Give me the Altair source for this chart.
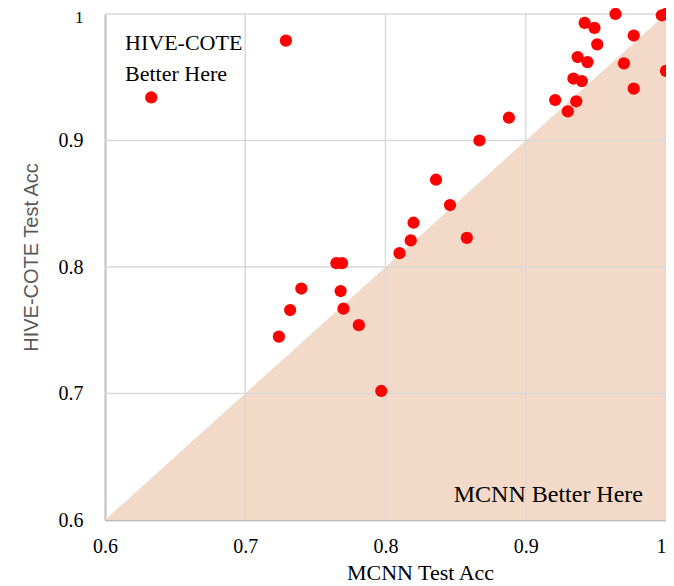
import altair as alt
import pandas as pd

# MCNN test accuracy (x) and HIVE-COTE test accuracy (y) per dataset
mcnn_acc = [0.633, 0.729, 0.836, 0.846, 0.820, 0.818, 0.810, 0.858, 0.765, 0.769,
            0.740, 0.768, 0.732, 0.770, 0.781, 0.724, 0.797, 0.964, 0.997, 1.000,
            0.942, 0.949, 0.977, 0.951, 0.937, 0.944, 0.970, 1.000, 0.934, 0.940,
            0.977, 0.921, 0.936, 0.930, 0.888, 0.867]
hive_acc = [0.934, 0.979, 0.869, 0.849, 0.835, 0.821, 0.811, 0.823, 0.803, 0.803,
            0.783, 0.781, 0.766, 0.767, 0.754, 0.745, 0.702, 1.000, 0.999, 1.000,
            0.993, 0.989, 0.983, 0.976, 0.966, 0.962, 0.961, 0.955, 0.949, 0.947,
            0.941, 0.932, 0.931, 0.923, 0.918, 0.900]

tick_values = [0.6, 0.7, 0.8, 0.9, 1.0]
grid_ticks = [0.7, 0.8, 0.9, 1.0]
diag_vals = [0.6, 1.0]
axis_min = 0.6

top_note_lines = ["HIVE-COTE", "Better Here"]
top_note_x = [0.6143, 0.6143]
top_note_y = [0.9715, 0.947]
bottom_note = ["MCNN Better Here"]
bottom_note_x = [0.9836]
bottom_note_y = [0.6142]

pts = pd.DataFrame({"mcnn": mcnn_acc, "hive": hive_acc})
diag = pd.DataFrame({"x": diag_vals, "y": diag_vals, "y2": [axis_min, axis_min]})
grid = pd.DataFrame({"v": grid_ticks})
top_df = pd.DataFrame({"t": top_note_lines, "x": top_note_x, "y": top_note_y})
bot_df = pd.DataFrame({"t": bottom_note, "x": bottom_note_x, "y": bottom_note_y})

xs = alt.Scale(domain=[0.6, 1.0], nice=False, zero=False)
ys = alt.Scale(domain=[0.6, 1.0], nice=False, zero=False)
lab_expr = "datum.value == 1 ? '1' : format(datum.value, '.1f')"

x_axis = alt.Axis(values=tick_values, grid=False, ticks=False, domainColor="#bfbfbf",
                  domainWidth=2, labelFont="Liberation Serif", labelFontSize=20,
                  labelColor="black", labelPadding=16, labelFlush=False,
                  labelAlign={"condition": {"test": "datum.value == 1", "value": "right"},
                              "value": "center"},
                  labelExpr=lab_expr, title="MCNN Test Acc",
                  titleFont="Liberation Serif", titleFontSize=22,
                  titleFontWeight="normal", titleColor="black",
                  titleX=315, titleY=59, titleBaseline="alphabetic")
y_axis = alt.Axis(values=tick_values, grid=False, ticks=False, domainColor="#bfbfbf",
                  domainWidth=2, labelFont="Liberation Serif",
                  labelFontSize={"condition": {"test": "datum.value == 1", "value": 17},
                                 "value": 20},
                  labelColor="black", labelPadding=22, labelFlush=False,
                  labelOffset={"condition": {"test": "datum.value == 1", "value": 3},
                               "value": 0},
                  labelExpr=lab_expr, title="HIVE-COTE Test Acc",
                  titleFont="Liberation Sans", titleFontSize=20,
                  titleFontWeight="normal", titleColor="#595959",
                  titleX=-74, titleY=243, titleBaseline="middle")

tri = alt.Chart(diag).mark_area(color="#f2d9c8", opacity=1).encode(
    x=alt.X("x:Q", scale=xs, axis=x_axis),
    y=alt.Y("y:Q", scale=ys, axis=y_axis),
    y2="y2:Q",
)
vgrid = alt.Chart(grid).mark_rule(color="#d9d9d9", strokeWidth=1.5).encode(
    x=alt.X("v:Q", scale=xs))
hgrid = alt.Chart(grid).mark_rule(color="#d9d9d9", strokeWidth=1.5).encode(
    y=alt.Y("v:Q", scale=ys))
points = alt.Chart(pts).mark_circle(size=150, color="#ff0000", opacity=1).encode(
    x=alt.X("mcnn:Q", scale=xs),
    y=alt.Y("hive:Q", scale=ys),
)
top_text = alt.Chart(top_df).mark_text(
    font="Liberation Serif", fontSize=22, align="left", baseline="alphabetic",
    color="black").encode(x=alt.X("x:Q", scale=xs), y=alt.Y("y:Q", scale=ys), text="t:N")
bot_text = alt.Chart(bot_df).mark_text(
    font="Liberation Serif", fontSize=24, align="right", baseline="alphabetic",
    color="black").encode(x=alt.X("x:Q", scale=xs), y=alt.Y("y:Q", scale=ys), text="t:N")

chart = alt.layer(tri, vgrid, hgrid, points, top_text, bot_text).properties(
    width=561, height=506,
    autosize=alt.AutoSizeParams(type="none"),
    padding={"left": 97, "top": 6, "right": 0, "bottom": 64},
).configure_view(stroke=None)

chart.save("out.html", embed_options={"renderer": "svg", "actions": False})
